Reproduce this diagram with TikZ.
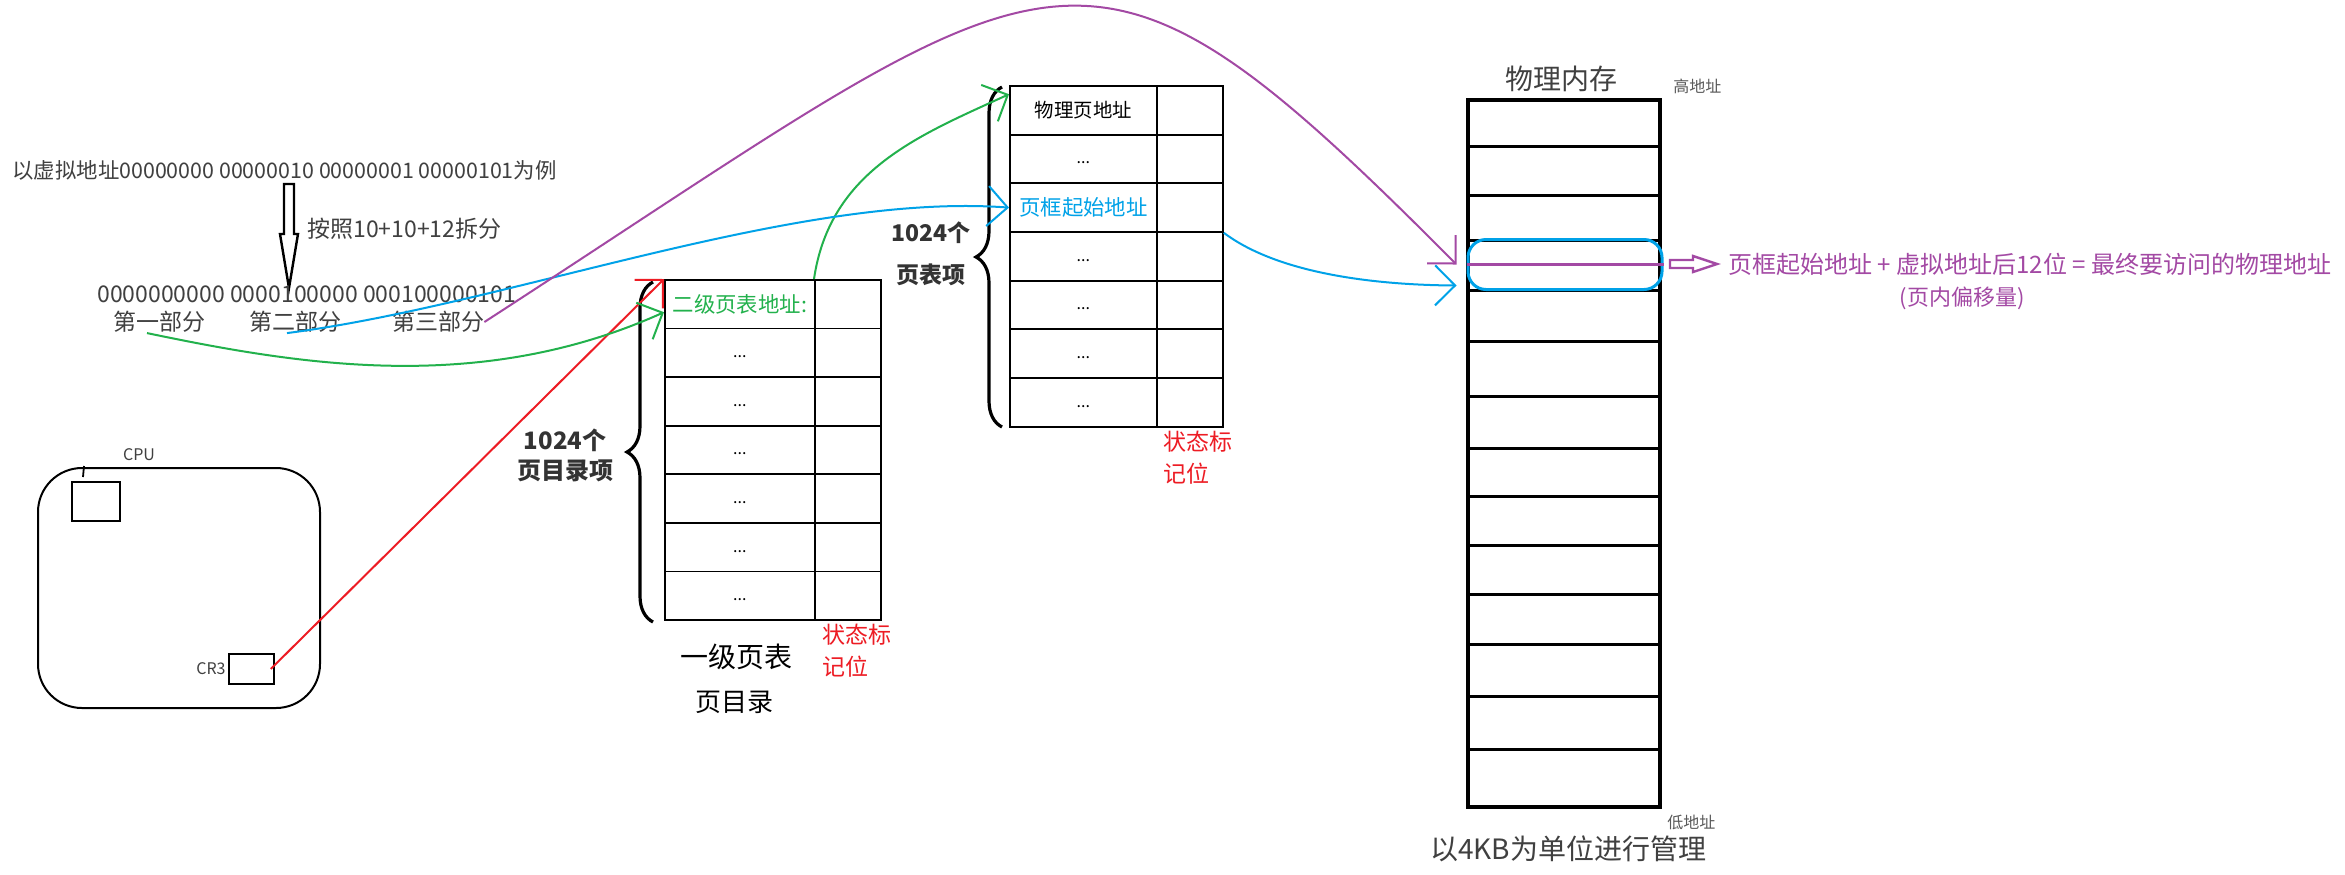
\documentclass[tikz,border=0pt]{standalone}
\usepackage{fontspec}
\setmainfont{Noto Sans CJK SC}
\usepackage{xcolor}
\usepackage{tikz}
\usetikzlibrary{arrows.meta,decorations.pathreplacing}

\definecolor{lgreen}{RGB}{34,177,76}
\definecolor{lblue}{RGB}{0,162,232}
\definecolor{lred}{RGB}{237,28,36}
\definecolor{lpurple}{RGB}{163,73,164}
\definecolor{ink}{RGB}{64,64,64}
\newcommand{\sz}[2]{\fontsize{#1}{#2}\selectfont}

\begin{document}
\begin{tikzpicture}[x=0.5pt, y=-0.5pt, >={Straight Barb[length=10pt,width=20pt]},
	txt/.style={text=ink, inner sep=0pt},
	dircell/.style={draw, line width=0.9pt, inner sep=0pt, anchor=north west, minimum width=75pt, minimum height=24.3pt},
	flagcell/.style={dircell, minimum width=33pt},
	ptecell/.style={dircell, minimum width=73.5pt},
	dotsty/.style={font=\sz{8pt}{10pt}, yshift=-2pt},
	flagnote/.style={text=lred, font=\sz{11.5pt}{16pt}, align=left, anchor=west, inner sep=0pt},
	countnote/.style={text=black!80, align=center, inner sep=0pt},
	bracy/.style={decorate, decoration={brace, amplitude=13pt}, line width=1.6pt},
]
\useasboundingbox (0,0) rectangle (2345,874);
\fill[white] (0,0) rectangle (2345,874);

% ---- endereco virtual ----
\node[txt, anchor=west, font=\sz{10.7pt}{13pt}] (title) at (12,170) {以虚拟地址00000000 00000010 00000001 00000101为例};
\draw[line width=1.2pt] (284,184) -- (294,184) -- (294,234) -- (298,234) -- (289,288) -- (280,234) -- (284,234) -- cycle;
\node[txt, anchor=west, font=\sz{11.5pt}{13pt}] (rule) at (307,229) {按照10+10+12拆分};
\node[txt, anchor=west, font=\sz{11.5pt}{13pt}] (bits) at (97,294) {0000000000 0000100000 000100000101};
\node[txt, font=\sz{11.5pt}{13pt}] (p1) at (159,322) {第一部分};
\node[txt, font=\sz{11.5pt}{13pt}] (p2) at (295,322) {第二部分};
\node[txt, font=\sz{11.5pt}{13pt}] (p3) at (438,322) {第三部分};

% ---- CPU ----
\node[draw, line width=1pt, rounded corners=22pt, minimum width=141pt, minimum height=120pt, inner sep=0pt] (cpu) at (179,588) {};
\node[txt, font=\sz{8pt}{10pt}] (cpulabel) at (139,455) {CPU};
\draw[line width=0.9pt] (84,466) -- (83,477);
\node[draw, line width=0.9pt, anchor=north west, minimum width=24pt, minimum height=19.5pt, inner sep=0pt] (reg) at (71,481) {};
\node[draw, line width=0.9pt, anchor=north west, minimum width=22.5pt, minimum height=15pt, inner sep=0pt] (cr3) at (228,653) {};
\node[txt, anchor=east, font=\sz{8pt}{10pt}] (cr3label) at (226,669) {CR3};

% ---- tabela 1 (diretorio) ----
\foreach \i in {1,...,7}{
	\node[dircell] (d\i) at (664,{279+48.6*(\i-1)}) {};
	\node[flagcell] (f\i) at (814,{279+48.6*(\i-1)}) {};
}
\node[text=lgreen, font=\sz{10.7pt}{12pt}, inner sep=0pt] at (d1) {二级页表地址:};
\foreach \i in {2,...,7}
	\node[dotsty] at (d\i) {...};
\draw[bracy] (653,622) -- (653,282);
\node[countnote, font=\bfseries\sz{12pt}{15pt}] (dircount) at (565,455) {1024个\\页目录项};
\node[font=\sz{14pt}{16pt}, inner sep=0pt] (dirname) at (736,657) {一级页表};
\node[font=\sz{13pt}{15pt}, inner sep=0pt] (dirname2) at (734,702) {页目录};
\node[flagnote] (dirflag) at (822,651) {状态标\\记位};

% ---- tabela 2 (paginas) ----
\foreach \i in {1,...,7}{
	\node[ptecell] (t\i) at (1009,{85+48.7*(\i-1)}) {};
	\node[flagcell] (g\i) at (1156,{85+48.7*(\i-1)}) {};
}
\node[font=\sz{9.7pt}{11pt}, inner sep=0pt] at (t1) {物理页地址};
\node[text=lblue, font=\sz{10.7pt}{12pt}, inner sep=0pt] at (t3) {页框起始地址};
\foreach \i in {2,4,5,6,7}
	\node[dotsty] at (t\i) {...};
\draw[bracy] (1002,427) -- (1002,87);
\node[countnote, font=\bfseries\sz{11.5pt}{21pt}] (ptecount) at (931,254) {1024个\\页表项};
\node[flagnote] (pteflag) at (1163,458) {状态标\\记位};

% ---- memoria fisica ----
\draw[line width=2.2pt] (1468,100) rectangle (1660,807);
\foreach \yy in {146,195,240,290,341,396,448,496,545,594,644,696,749}
	\draw[line width=1.5pt] (1468,\yy) -- (1660,\yy);
\node[draw=lblue, line width=1.5pt, rounded corners=9pt, minimum width=97pt, minimum height=25pt, inner sep=0pt] (hit) at (1565,264.5) {};
\draw[lpurple, line width=1.2pt] (hit.west) -- (hit.east);
\node[txt, font=\sz{14pt}{16pt}] (memtitle) at (1561,79) {物理内存};
\node[txt, text=black!65, anchor=west, font=\sz{8pt}{10pt}] (hi) at (1673,86) {高地址};
\node[txt, text=black!65, anchor=west, font=\sz{8pt}{10pt}] (lo) at (1667,822) {低地址};
\node[txt, font=\sz{14pt}{16pt}] (memunit) at (1568,849) {以4KB为单位进行管理};
\draw[lpurple, line width=1.2pt] (1670,260) -- (1693,260) -- (1693,256) -- (1717,264) -- (1693,272) -- (1693,268) -- (1670,268) -- cycle;
\node[text=lpurple, anchor=west, font=\sz{12pt}{14pt}, inner sep=0pt] (sumnote) at (1728,264) {页框起始地址 + 虚拟地址后12位 = 最终要访问的物理地址};
\node[text=lpurple, font=\sz{11pt}{14pt}, inner sep=0pt] (offnote) at (1962,298) {(页内偏移量)};

% ---- ligacoes ----
\draw[lred, line width=1pt, ->] ([xshift=-2pt]cr3.east) -- (d1.north west);
\draw[lgreen, line width=1pt, ->] ([xshift=-6pt]p1.south) .. controls (300,365) and (480,395) .. ([yshift=-4pt]d1.west);
\draw[lgreen, line width=1pt, ->] (f1.north west) .. controls (830,170) and (920,135) .. ([yshift=8pt]t1.west);
\draw[lblue, line width=1pt, ->] ([xshift=-4pt]p2.south) .. controls (507,305) and (795,192) .. (t3.west);
\draw[lblue, line width=1pt, ->] (g3.south east) .. controls (1280,275) and (1380,285) .. ([shift={(-5pt,-10.5pt)}]hit.west);
\draw[lpurple, line width=1pt, ->] (p3.east) .. controls (1068,-56) and (1075,-119) .. ([xshift=-5pt]hit.west);
\end{tikzpicture}
\end{document}
